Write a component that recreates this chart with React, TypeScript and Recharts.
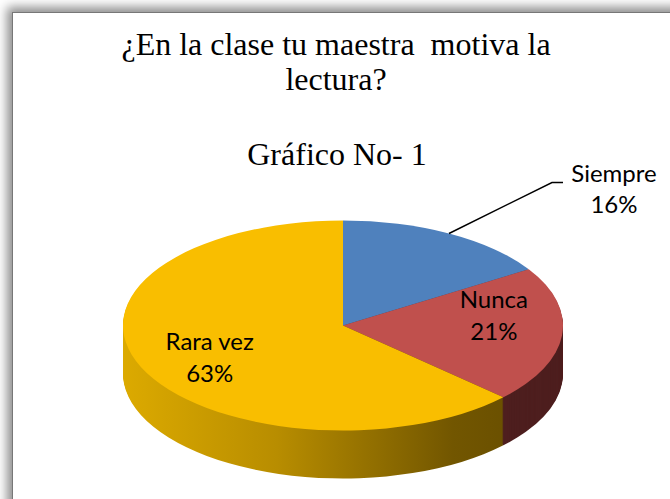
import { PieChart, Pie, Cell } from 'recharts';

// answers to the survey question (percent of students)
const categories = ['Siempre', 'Nunca', 'Rara vez'];
const percentages = [16, 21, 63];

const topColors = ['#4F81BD', '#C0504D', '#F9BE00'];
const sideColors = ['#2E4B6F', '#4E1F1F', 'url(#sideGold)'];

const data = categories.map((name, i) => ({ name, value: percentages[i] }));

const W = 670;
const H = 499;
// ellipse of the pie top, in page pixels
const CX = 343;
const CY = 325.5;
const RX = 220;
const RY = 105;
const DEPTH = 48;
const S = RY / RX; // vertical squash of the whole pie

const RAD = Math.PI / 180;
const layers = Array.from({ length: DEPTH }, (_, i) => DEPTH - i);

const labelFont = { fontFamily: 'Lato, "Open Sans", sans-serif', fontSize: 24, fill: '#000' };

function renderLabel(props: any) {
    const { cx, cy, midAngle, outerRadius, name, value, percent } = props;
    const cos = Math.cos(midAngle * RAD);
    const sin = Math.sin(midAngle * RAD);
    const cyR = cy * S;
    const ry = outerRadius * S;

    // small slice: label goes outside with a leader line
    if (percent < 0.18) {
        const ex = cx + outerRadius * cos;
        const ey = cyR - ry * sin;
        const bx = ex + 103;
        const by = ey - 51;
        const tx = bx + 62;
        return (
            <g transform={`scale(1, ${1 / S})`}>
                <polyline points={`${ex},${ey} ${bx},${by} ${bx + 11},${by}`} fill="none" stroke="#000" strokeWidth={1.5} />
                <text x={tx} y={by} textAnchor="middle" style={labelFont}>{name}</text>
                <text x={tx} y={by + 31} textAnchor="middle" style={labelFont}>{value}%</text>
            </g>
        );
    }

    const x = cx + outerRadius * 0.675 * cos + 3;
    const y = cyR - 15 - 1.32 * ry * sin;
    return (
        <g transform={`scale(1, ${1 / S})`}>
            <text x={x} y={y - 16} textAnchor="middle" style={labelFont}>{name}</text>
            <text x={x} y={y + 16} textAnchor="middle" style={labelFont}>{value}%</text>
        </g>
    );
}

export default function App() {
    return (
        <div style={{ position: 'relative', width: W, height: H, overflow: 'hidden', background: '#fff' }}>
            <style>{'body{margin:0}'}</style>
            <svg width={0} height={0} style={{ position: 'absolute' }}>
                <defs>
                    <linearGradient id="sideGold" gradientUnits="userSpaceOnUse" x1={CX - RX} y1={0} x2={CX + RX} y2={0}>
                        <stop offset="0%" stopColor="#DCAA00" />
                        <stop offset="35%" stopColor="#B88D00" />
                        <stop offset="75%" stopColor="#725600" />
                        <stop offset="100%" stopColor="#634A00" />
                    </linearGradient>
                </defs>
            </svg>

            {/* framed box with soft shadow on top/left */}
            <div
                style={{
                    position: 'absolute',
                    left: 12,
                    top: 12,
                    width: W + 40,
                    height: H + 40,
                    background: '#fff',
                    borderLeft: '1px solid #777',
                    borderTop: '1px solid #777',
                    boxShadow: '-2px -2px 10px 3px rgba(0,0,0,0.45)',
                }}
            />

            <div
                style={{
                    position: 'absolute',
                    left: 0,
                    top: 0,
                    width: W,
                    height: H / S,
                    transform: `scaleY(${S})`,
                    transformOrigin: '0 0',
                }}
            >
                <PieChart width={W} height={H / S} margin={{ top: 0, right: 0, bottom: 0, left: 0 }}>
                    {layers.map((k) => (
                        <Pie
                            key={k}
                            data={data}
                            dataKey="value"
                            cx={CX}
                            cy={CY / S + k / S}
                            outerRadius={RX}
                            startAngle={90}
                            endAngle={-270}
                            stroke="none"
                            isAnimationActive={false}
                        >
                            {data.map((d, i) => (
                                <Cell key={d.name} fill={sideColors[i]} />
                            ))}
                        </Pie>
                    ))}
                    <Pie
                        data={data}
                        dataKey="value"
                        cx={CX}
                        cy={CY / S}
                        outerRadius={RX}
                        startAngle={90}
                        endAngle={-270}
                        stroke="none"
                        label={renderLabel}
                        labelLine={false}
                        isAnimationActive={false}
                    >
                        {data.map((d, i) => (
                            <Cell key={d.name} fill={topColors[i]} />
                        ))}
                    </Pie>
                </PieChart>
            </div>

            <div
                style={{
                    position: 'absolute',
                    left: 0,
                    top: 27,
                    width: W + 2,
                    textAlign: 'center',
                    fontFamily: '"Liberation Serif", "Times New Roman", serif',
                    fontSize: 32,
                    lineHeight: '35px',
                    whiteSpace: 'pre',
                    color: '#000',
                }}
            >
                {'¿En la clase tu maestra  motiva la\nlectura?'}
            </div>
            <div
                style={{
                    position: 'absolute',
                    left: 0,
                    top: 137,
                    width: W + 4,
                    textAlign: 'center',
                    fontFamily: '"Liberation Serif", "Times New Roman", serif',
                    fontSize: 32,
                    lineHeight: '35px',
                    color: '#000',
                }}
            >
                Gráfico No- 1
            </div>
        </div>
    );
}
